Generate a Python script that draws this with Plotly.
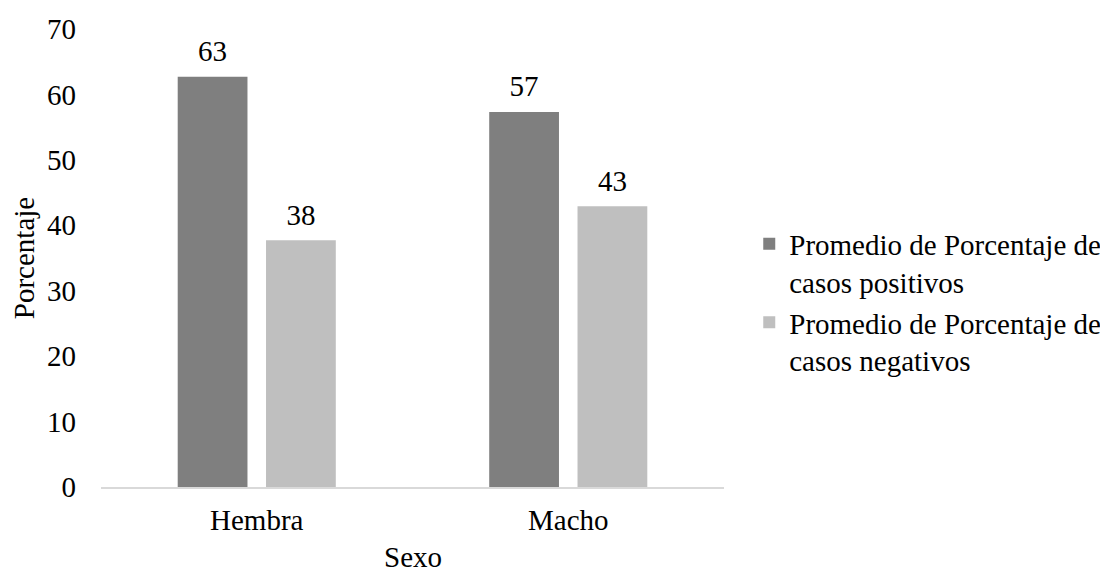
import plotly.graph_objects as go

categories = ["Hembra", "Macho"]
positivos = [62.7, 57.3]
negativos = [37.7, 42.9]
series_names = ["Promedio de Porcentaje de<br>casos positivos",
                "Promedio de Porcentaje de<br>casos negativos"]
y_ticks = [0, 10, 20, 30, 40, 50, 60, 70]
x_title = "Sexo"
y_title = "Porcentaje"

FONT = "Liberation Serif"
FS = 29
GAP = 0.433

fig = go.Figure()
for vals, name, col, grp in [(positivos, series_names[0], "#7f7f7f", "p"),
                             (negativos, series_names[1], "#bfbfbf", "n")]:
    fig.add_trace(go.Bar(x=categories, y=vals, name=name, offsetgroup=grp,
                         marker=dict(color=col, line=dict(width=0))))
for vals, grp in [(positivos, "p"), (negativos, "n")]:
    fig.add_trace(go.Scatter(x=categories, y=vals, mode="markers+text",
                             offsetgroup=grp, showlegend=False,
                             marker=dict(size=12, opacity=0),
                             text=[f"{v:.0f}" for v in vals],
                             textposition="top center",
                             textfont=dict(family=FONT, size=FS, color="black"),
                             cliponaxis=False, hoverinfo="skip"))

fig.update_layout(
    width=1108, height=573,
    margin=dict(l=93, r=392, t=21, b=94),
    paper_bgcolor="white", plot_bgcolor="white",
    font=dict(family=FONT, size=FS, color="black"),
    barmode="group", bargap=GAP, bargroupgap=0.21,
    scattermode="group", scattergap=GAP,
    legend=dict(xref="container", yref="container", x=0.669, y=0.487,
                xanchor="left", yanchor="middle", valign="top",
                font=dict(family=FONT, size=FS, color="black"),
                tracegroupgap=4, bgcolor="rgba(0,0,0,0)"),
    showlegend=True,
)
fig.add_annotation(text=x_title, xref="paper", yref="paper", x=0.5, y=0,
                   xanchor="center", yanchor="middle", yshift=-70,
                   showarrow=False, font=dict(family=FONT, size=FS, color="black"))
fig.update_xaxes(showline=True, linecolor="#d9d9d9", linewidth=1.5,
                 ticks="", showgrid=False, automargin=False, ticklabelstandoff=6)
fig.update_yaxes(range=[0, 70], tickvals=y_ticks, showgrid=False, zeroline=False,
                 showline=False, ticks="", ticklabelstandoff=24, automargin=False,
                 title=dict(text=y_title, font=dict(family=FONT, size=FS), standoff=11))

fig.write_html("out.html")
